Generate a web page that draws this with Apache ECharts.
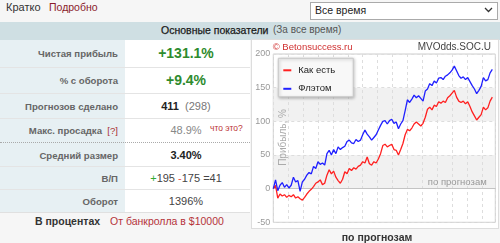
<!DOCTYPE html>
<html>
<head>
<meta charset="utf-8">
<script src="https://cdn.jsdelivr.net/npm/echarts@6/dist/echarts.min.js"></script>
<style>
html,body{margin:0;padding:0;}
body{width:500px;height:243px;background:#f6f6f6;position:relative;overflow:hidden;font-family:"Liberation Sans",Arial,sans-serif;}
.abs{position:absolute;white-space:nowrap;}
.lbl{position:absolute;right:382px;font-size:9.6px;font-weight:bold;color:#666;transform:translateY(-50%);white-space:nowrap;}
.val{position:absolute;left:125px;width:122px;text-align:center;transform:translateY(-50%);white-space:nowrap;font-size:11px;color:#444;}
.sep{position:absolute;left:0;width:250px;height:0;border-top:1px solid #e4e4e4;}
</style>
</head>
<body>
<div class="abs" style="left:6px;top:1px;font-size:11px;color:#333;">Кратко</div>
<div class="abs" style="left:49px;top:1px;font-size:10.5px;color:#8b1c2c;">Подробно</div>
<div class="abs" style="left:310px;top:2px;width:186px;height:16px;border:1px solid #aaa;background:#fff;"></div>
<div class="abs" style="left:315px;top:4px;font-size:10.5px;color:#222;">Все время</div>
<svg class="abs" style="left:484px;top:7px" width="9" height="6"><polyline points="1,1 4.5,4.5 8,1" fill="none" stroke="#333" stroke-width="1.3"/></svg>

<div class="abs" style="left:0;top:22px;width:500px;height:18px;background:#cfdfe3;"></div>
<div class="abs" style="left:161px;top:24px;font-size:10.5px;color:#1a1a1a;-webkit-text-stroke:0.25px #1a1a1a;">Основные показатели</div>
<div class="abs" style="left:273px;top:24px;font-size:10px;color:#555;">(За все время)</div>

<div class="abs" style="left:0;top:40px;width:125px;height:172px;background:#e7f0f3;"></div>
<div class="abs" style="left:125px;top:40px;width:125px;height:172px;background:#fff;"></div>
<div id="rows"></div>

<div class="abs" style="left:35px;top:215px;font-size:10.5px;font-weight:bold;color:#333;">В процентах</div>
<div class="abs" style="left:110px;top:215px;font-size:10.5px;color:#b5333a;">От банкролла в $10000</div>

<div class="abs" style="left:251px;top:39px;width:246px;height:188px;border:1px solid #ddd;background:#fff;"></div>
<div id="chart" class="abs" style="left:251px;top:39px;width:247px;height:204px;"></div>

<script>
// ---- table data ----
const statLabels = ['Чистая прибыль', '% с оборота', 'Прогнозов сделано', 'Макс. просадка', 'Средний размер', 'В/П', 'Оборот'];
const netProfit = '+131.1%';
const turnoverPct = '+9.4%';
const predictionsMade = 411;
const predictionsUnique = 298;
const maxDrawdown = '48.9%';
const avgSize = '3.40%';
const winLoss = [195, 175, 41];
const turnover = '1396%';
const rowCenters = [53, 80, 106, 130, 155, 178, 201];
const rowSeps = [66.7, 93.3, 118.3, 166, 189.3];

// ---- chart data (cumulative profit, %, sampled every 3 predictions) ----
const step = 3;
const xMax = 298;
const yTicks = [-50, 0, 50, 100, 150, 200];
const seriesNames = ['Как есть', 'Флэтом'];
const asIs = [0,5,-14,-8,-11,-9,-13,-10,-12,-9,-14,-12,-15,-17,-13,-8,-4,-1,3,8,
 10,13,6,8,20,28,22,26,17,12,8,14,25,22,30,27,31,29,33,35,
 40,38,47,37,35,40,38,44,52,64,66,62,64,66,58,57,50,58,67,80,
 88,86,90,96,99,96,93,97,106,118,121,117,124,122,129,127,130,128,135,138,
 142,146,136,130,128,130,126,129,122,114,108,102,106,110,121,117,120,130,136];
const flat = [0,13,-3,5,9,2,6,1,5,17,10,12,-4,10,14,20,24,22,33,30,
 40,36,38,35,52,57,50,58,52,62,58,61,63,70,72,68,67,73,70,72,
 80,87,81,77,72,76,80,87,94,100,101,96,101,103,97,99,89,96,101,116,
 132,128,133,139,135,138,134,130,145,148,156,153,160,157,164,165,162,167,169,172,
 176,182,175,168,164,166,162,165,159,153,148,141,146,152,165,160,162,172,177];

// build table
const rows = document.getElementById('rows');
let html = '';
rowSeps.forEach(y => { html += `<div class="sep" style="top:${y}px"></div>`; });
html += `<div class="sep" style="top:141.7px;border-top:1px dotted #aaa"></div>`;
html += `<div class="sep" style="top:211.7px;border-top:1px solid #e0e0e0"></div>`;
statLabels.forEach((l, i) => {
  const extra = i === 3 ? ' &nbsp;<span style="color:#a33;font-weight:normal">[?]</span>' : '';
  html += `<div class="lbl" style="top:${rowCenters[i]}px">${l}${extra}</div>`;
});
const v = [
  `<span style="font-size:14px;font-weight:bold;color:#2e8b2e">${netProfit}</span>`,
  `<span style="font-size:14px;font-weight:bold;color:#2e8b2e">${turnoverPct}</span>`,
  `<b style="color:#222">${predictionsMade}</b>&nbsp; <span style="color:#777">(${predictionsUnique})</span>`,
  `<span style="color:#888">${maxDrawdown}</span>`,
  `<b style="color:#222">${avgSize}</b>`,
  `<span style="color:#3a3">+</span>${winLoss[0]} <span style="color:#e55">-</span>${winLoss[1]} =${winLoss[2]}`,
  `${turnover}`
];
v.forEach((s, i) => { html += `<div class="val" style="top:${rowCenters[i]}px">${s}</div>`; });
html += `<div class="abs" style="left:210px;top:123px;font-size:8.5px;color:#b33;">что это?</div>`;
rows.innerHTML = html;

// chart
const chart = echarts.init(document.getElementById('chart'), null, {renderer: 'canvas'});
const toPairs = arr => arr.map((y, i) => [i * step, y]);
chart.setOption({
  animation: false,
  grid: {left: 22.3, right: 2.7, top: 15, bottom: 20.7, show: true, borderColor: '#ccc', borderWidth: 1, backgroundColor: '#fff'},
  legend: {
    data: seriesNames.map(n => ({name: n, icon: 'rect'})),
    orient: 'vertical', left: 27.3, top: 19.3,
    itemWidth: 8, itemHeight: 2, itemGap: 8.5,
    padding: [7, 18, 3, 5],
    backgroundColor: '#f8f8f8', borderColor: '#c8c8c8', borderWidth: 1,
    shadowBlur: 3, shadowColor: 'rgba(0,0,0,0.25)', shadowOffsetX: 1, shadowOffsetY: 1,
    textStyle: {fontSize: 9.5, color: '#222', lineHeight: 10, padding: [0, 0, 0, 2]}
  },
  xAxis: {
    type: 'value', min: 0, max: xMax, interval: 20,
    axisLabel: {show: false}, axisTick: {show: false},
    axisLine: {show: true, onZero: true, lineStyle: {color: '#c4c4c4'}},
    splitLine: {show: true, lineStyle: {color: '#ddd', type: [3, 3]}}
  },
  yAxis: {
    type: 'value', min: yTicks[0], max: yTicks[yTicks.length - 1], interval: 50,
    axisLabel: {fontSize: 9, color: '#999', margin: 3},
    axisTick: {show: false}, axisLine: {show: false},
    splitLine: {show: true, lineStyle: {color: '#ddd', type: [3, 3]}},
    splitArea: {show: true, areaStyle: {color: ['rgba(255,255,255,0)', '#f1f1f1']}}
  },
  series: [
    {name: seriesNames[0], type: 'line', data: toPairs(asIs), showSymbol: false, lineStyle: {color: '#ff2020', width: 1.3}, itemStyle: {color: '#ff2020'}, z: 3},
    {name: seriesNames[1], type: 'line', data: toPairs(flat), showSymbol: false, lineStyle: {color: '#2020ff', width: 1.3}, itemStyle: {color: '#2020ff'}, z: 3}
  ],
  graphic: [
    {type: 'text', left: 21.7, top: 3, style: {text: '© Betonsuccess.ru', fill: '#d03030', font: '9.5px "Liberation Sans", Arial, sans-serif'}},
    {type: 'text', right: 7, top: 3, style: {text: 'MVOdds.SOC.U', fill: '#444', font: '10px "Liberation Sans", Arial, sans-serif'}},
    {type: 'text', x: 32, y: 98.5, rotation: Math.PI / 2, style: {text: 'Прибыль, %', fill: '#aaa', font: '10px "Liberation Sans", Arial, sans-serif', align: 'center', verticalAlign: 'middle'}, z: 10},
    {type: 'text', x: 235.7, y: 143.7, style: {text: 'по прогнозам', fill: '#999', font: '9.5px "Liberation Sans", Arial, sans-serif', align: 'right', verticalAlign: 'middle'}, z: 10},
    {type: 'text', x: 126, y: 198.7, style: {text: 'по прогнозам', fill: '#333', font: 'bold 10.5px "Liberation Sans", Arial, sans-serif', align: 'center', verticalAlign: 'middle'}}
  ]
});
</script>
</body>
</html>
